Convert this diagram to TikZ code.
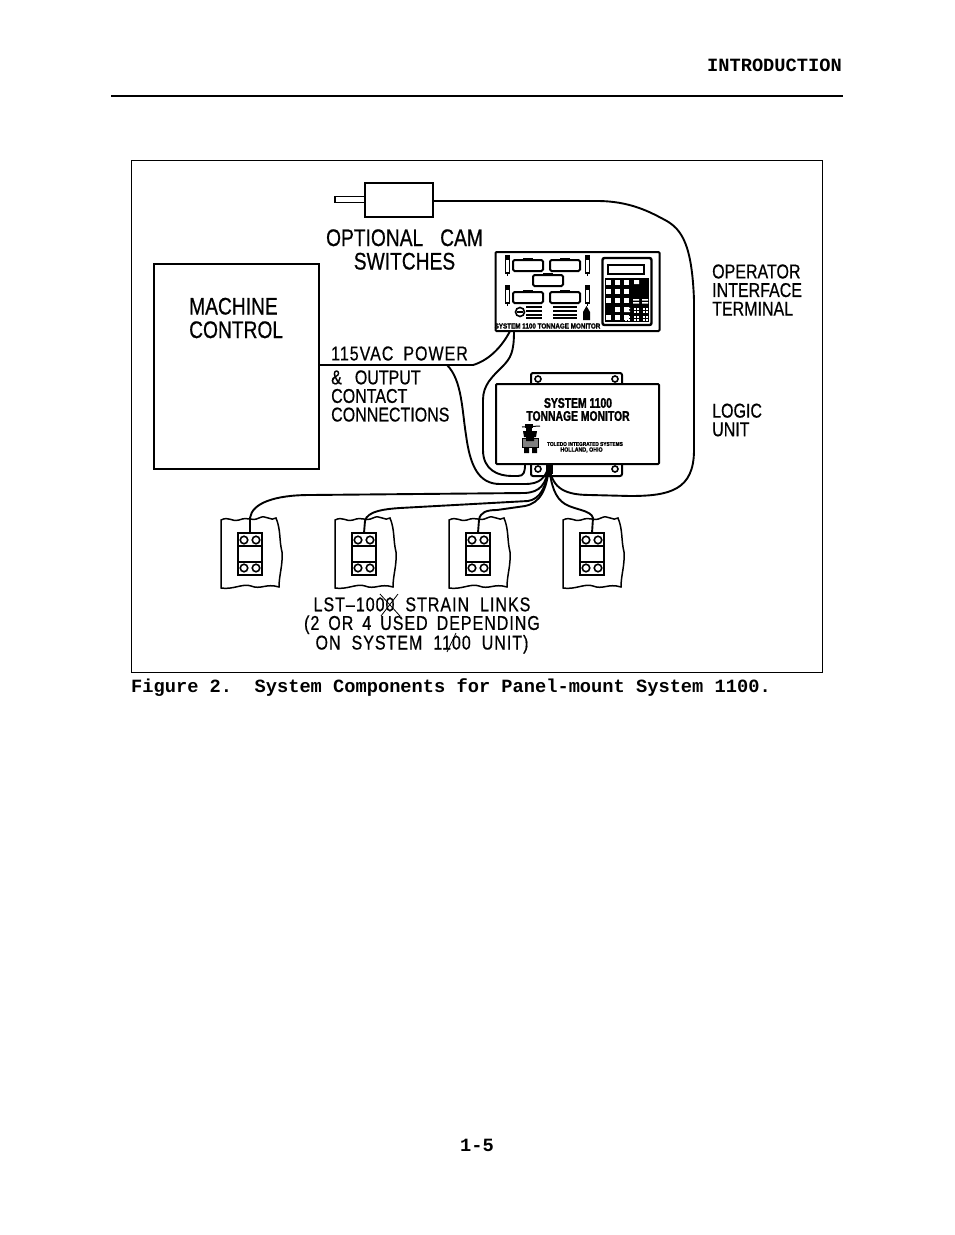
\documentclass[tikz,border=0pt]{standalone}
\usepackage{fontspec}
\setmainfont{Liberation Sans}
\setmonofont{Liberation Mono}
\newfontfamily\cadfont[FakeStretch=0.8,FakeBold=0.6]{Liberation Sans}
\newfontfamily\cadwide[FakeStretch=0.8,FakeBold=0.6,LetterSpace=5]{Liberation Sans}
\newfontfamily\cadheavy[FakeStretch=0.85,FakeBold=1.5]{Liberation Sans Bold}
\newfontfamily\cadtitle[FakeStretch=0.74,FakeBold=1.5]{Liberation Sans Bold}
\begin{document}
\begin{tikzpicture}[x=1pt,y=-1pt]
    \tikzset{
        part box/.style={draw,line width=2pt,rectangle,inner sep=0pt,outer sep=0pt},
        wire/.style={draw,line width=1.9pt},
        cad label/.style={inner sep=0pt,font=\cadfont\fontsize{20}{18.6}\selectfont,align=left},
        big label/.style={inner sep=0pt,font=\cadfont\fontsize{24}{23.5}\selectfont},
        page label/.style={inner sep=0pt,font=\ttfamily\bfseries\fontsize{18.7}{18.7}\selectfont},
        logo text/.style={inner sep=0pt,font=\cadheavy\fontsize{#1}{#1}\selectfont},
        hole/.style={draw,line width=1.6pt,circle,inner sep=0pt,minimum size=#1}
    }
    \useasboundingbox (0,0) rectangle (954,1235);
    \fill[white] (0,0) rectangle (954,1235);

    % page
    \node[page label,anchor=east] (title) at (842,65.5) {INTRODUCTION};
    \draw[line width=2pt] (111,96) -- (843,96);
    \node[page label,anchor=west] (caption) at (131,687.5) {Figure 2.\ \ System Components for Panel-mount System 1100.};
    \node[page label] (pageno) at (477,1145.5) {1-5};
    \node[draw,line width=1.2pt,outer sep=0pt,minimum width=691pt,minimum height=512pt,anchor=north west,inner sep=0pt] (frame) at (131.5,160.5) {};

    % machine control and cam
    \node[part box,minimum width=165pt,minimum height=205pt,anchor=north west] (machine) at (154,263.5) {};
    \node[big label,align=left,anchor=west] (machinetext) at (189,318) {MACHINE\\CONTROL};
    \node[part box,minimum width=68pt,minimum height=34pt,anchor=north west] (cam) at (365,183) {};
    \node[draw,line width=1.5pt,outer sep=0pt,minimum width=30pt,minimum height=6pt,inner sep=0pt,anchor=east] (shaft) at (cam.west |- 0,199.5) {};
    \node[big label,align=center] (camtext) at (404.5,249.5) {OPTIONAL\hspace{17pt}CAM\\SWITCHES};

    % terminal
    \node[part box,minimum width=164pt,minimum height=79pt,anchor=north west,rounded corners=1pt] (terminal) at (495.5,252) {};
    \foreach \x/\y [count=\i] in {513/260,550/260,533/275,513/292,550/292}{
        \node[draw,line width=2pt,outer sep=0pt,minimum width=30pt,minimum height=11pt,rounded corners=1.5pt,inner sep=0pt,anchor=north west] (pcb\i) at (\x,\y) {};
        \fill (\x+10,\y-2) rectangle (\x+20,\y);
    }
    \foreach \x/\y in {507.5/256,587.5/256,507.5/286,587.5/286}{
        \draw[line width=1.5pt] (\x-2,\y) rectangle (\x+2,\y+17);
        \fill (\x-2.5,\y) rectangle (\x+2.5,\y+4);
        \draw[line width=1pt] (\x,\y+17) -- (\x,\y+20);
    }
    \node[part box,line width=2.4pt,minimum width=49pt,minimum height=67pt,rounded corners=2pt,anchor=north west] (keypad) at (602.5,258) {};
    \node[draw,line width=1.6pt,outer sep=0pt,minimum width=36pt,minimum height=9pt,inner sep=0pt,anchor=north west] (display) at (608,265) {};
    \fill (605,278) rectangle (649,322);
    \foreach \r/\y in {0/280,1/289,2/298,3/307,4/315}
        \foreach \c/\x in {0/606,1/615,2/624}
            \fill[white] (\x,\y) rectangle (\x+5,\y+4.5);
    \fill[black] (606,307) rectangle (612,312);
    \fill[white] (634,280) rectangle (639,284) (633,299) rectangle (639,300.5) (642,299) rectangle (648,300.5) (633,302) rectangle (639,303.5) (642,302) rectangle (648,303.5);
    \fill[white] (624,307.5) rectangle (630,309) (624,310.5) rectangle (630,312);
    \foreach \i in {634,637,643,646}
        \foreach \j in {308,311,316,319}
            \fill[white] (\i,\j) rectangle (\i+1.5,\j+1.5);
    \foreach \i in {625,628}
        \foreach \j in {316,319}
            \fill[white] (\i,\j) rectangle (\i+1.5,\j+1.5);
    \draw[line width=1.6pt] (520,312) circle (4.5pt);
    \draw[line width=1.6pt] (517,312) -- (523,312);
    \foreach \y in {307,311,315,318}{
        \draw[line width=2pt] (526,\y) -- (542,\y);
        \draw[line width=2pt] (553,\y) -- (577,\y);
    }
    \fill (586.5,306) -- (590,312) -- (590,320) -- (583,320) -- (583,312) -- cycle;
    \node[logo text=7.4] (termname) at (547.5,326) {SYSTEM 1100 TONNAGE MONITOR};

    % logic unit
    \node[part box,minimum width=91pt,minimum height=103pt,rounded corners=2pt,anchor=north west] (flange) at (531,373) {};
    \foreach \x/\y [count=\i] in {538/379,615/379,538/469,615/469}
        \node[hole=6pt] (hole\i) at (\x,\y) {};
    \node[part box,fill=white,minimum width=163pt,minimum height=80pt,anchor=north west,rounded corners=1pt] (logic) at (496,384) {};
    \node[inner sep=0pt,font=\cadtitle\fontsize{14}{14}\selectfont,align=center] (logictext) at (578,409.5) {SYSTEM 1100\\[-1pt]TONNAGE MONITOR};
    \fill (525,424) rectangle (533,428);
    \draw[line width=1pt] (522,427) -- (540,426);
    \fill (526,428) rectangle (532,431);
    \fill (523,431) -- (537,431) -- (536,437) -- (524,437) -- cycle;
    \draw[line width=1pt,fill=gray] (522,438) rectangle (538.5,447);
    \fill (526,437) rectangle (534,441) (524,447) rectangle (529,453) (532,447) rectangle (537,453);
    \node[logo text=5.6] (logo1) at (585,444) {TOLEDO INTEGRATED SYSTEMS};
    \node[logo text=6.2] (logo2) at (581.5,450) {HOLLAND, OHIO};

    % links
    \foreach \n/\x in {a/221,b/335,c/449,d/563}{
        \draw[line width=1.5pt] (\x,520) .. controls (\x+8,516) and (\x+10,522) .. (\x+18,520) .. controls (\x+28,516) and (\x+30,522) .. (\x+38,518) .. controls (\x+45,514) and (\x+50,522) .. (\x+55,518)
            .. controls (\x+60,530) and (\x+58,540) .. (\x+61,552) .. controls (\x+62,565) and (\x+58,575) .. (\x+58,587)
            .. controls (\x+45,583) and (\x+40,590) .. (\x+30,586) .. controls (\x+22,583) and (\x+12,590) .. (\x,588) -- cycle;
        \node[part box,minimum width=24pt,minimum height=42pt,anchor=north west] (link\n) at (\x+17,533) {};
        \draw[line width=2pt] (\x+17,546) -- (\x+41,546) (\x+17,562) -- (\x+41,562);
        \foreach \u in {23,35}
            \foreach \v in {540,568}
                \node[hole=7.5pt] (link\n\u\v) at (\x+\u,\v) {};
    }

    % wires
    \coordinate (fan) at (549,466);
    \coordinate (powertap) at (447,365);
    \coordinate (termport1) at (510,331);
    \coordinate (termport2) at (514,331);
    \coordinate (logicport) at (525,464);
    \draw[wire] (cam.east) ++(0,1) -- (597,201) .. controls (630,201) and (650,212) .. (665,220) .. controls (682,229) and (692,245) .. (694,300) -- (694,450) .. controls (694,490) and (670,496) .. (630,496) -- (590,495) .. controls (560,495) and (552,485) .. (fan);
    \draw[wire] (machine.east |- powertap) -- (powertap) -- (473,365) .. controls (490,360) and (503,345) .. (termport1);
    \draw[wire] (termport2) .. controls (514,352) and (511,358) .. (502,367) .. controls (492,377) and (483,385) .. (483,400) -- (483,450) .. controls (483,470) and (498,476) .. (512,476) -- (518,476) .. controls (524,476) and (525,472) .. (logicport);
    \draw[wire] (powertap) .. controls (462,380) and (462,410) .. (466,435) .. controls (470,465) and (478,484) .. (500,484) -- (525,484) .. controls (540,484) and (545,478) .. (fan);
    \draw[wire] (linka.north) -- (250,518) .. controls (252,503) and (275,495) .. (310,495) -- (525,493) .. controls (540,492) and (546,485) .. (fan);
    \draw[wire] (linkb.north) -- (365,521) .. controls (367,511) and (385,509) .. (400,508) -- (528,501) .. controls (540,499) and (546,488) .. (fan);
    \draw[wire] (linkc.north) -- (479,520) .. controls (480,512) and (487,510) .. (497,510) -- (525,506) .. controls (540,503) and (547,490) .. (fan);
    \draw[wire] (linkd.north) -- (593,518) .. controls (591,510) and (575,510) .. (565,504) .. controls (555,498) and (551,485) .. (fan);
    \fill (546,464) rectangle (553,474);

    % labels
    \node[cad label,font=\cadwide\fontsize{20}{18.6}\selectfont,anchor=west] (powertext) at (331,353.5) {115VAC\hspace{10pt}POWER};
    \node[cad label,anchor=west] (contacttext) at (331,396) {\&\hspace{13pt}OUTPUT\\CONTACT\\CONNECTIONS};
    \node[cad label,anchor=west] (termtext) at (712,290) {OPERATOR\\INTERFACE\\TERMINAL};
    \node[cad label,anchor=west] (logiclabel) at (712,420) {LOGIC\\UNIT};
    \node[cad label,font=\cadwide\fontsize{20}{18.6}\selectfont,align=center] (linktext) at (422,625.5) {LST–1000\hspace{11pt}STRAIN\hspace{11pt}LINKS\\(2\hspace{9pt}OR\hspace{9pt}4\hspace{9pt}USED\hspace{9pt}DEPENDING\\ON\hspace{11pt}SYSTEM\hspace{11pt}1100\hspace{11pt}UNIT)\hspace{6pt}};
    \draw[line width=.8pt] (380,594) -- (400,616) (398,594) -- (381,616) (456,633) -- (447,652);
\end{tikzpicture}
\end{document}
